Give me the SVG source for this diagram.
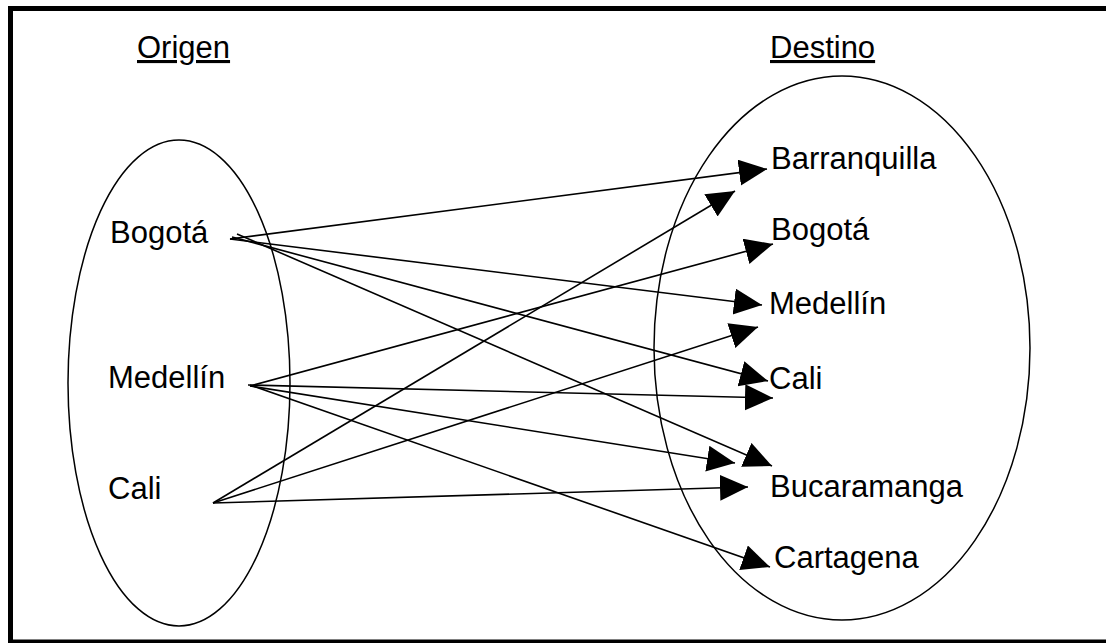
<svg xmlns="http://www.w3.org/2000/svg" width="1106" height="643" viewBox="0 0 1106 643">
<style>
text{font-family:"Liberation Sans",Arial,sans-serif;font-size:31px;fill:#000}
.h{text-decoration:underline}
.set{fill:none;stroke:#000;stroke-width:1.5}
.c{stroke:#000;stroke-width:1.6;fill:none;marker-end:url(#ah)}
</style>
<defs>
<marker id="ah" markerUnits="userSpaceOnUse" markerWidth="30" markerHeight="28" refX="28" refY="13" orient="auto" viewBox="0 0 30 28">
<path d="M0,0 L28,13 L0,26 z" fill="#000"/>
</marker>
</defs>
<rect width="1106" height="643" fill="#fff"/>
<rect x="10.5" y="8.5" width="1110" height="633.5" fill="none" stroke="#000" stroke-width="5"/>
<g id="origen">
<text class="h" x="137" y="58">Origen</text>
<ellipse class="set" cx="179" cy="383" rx="111" ry="243"/>
</g>
<g id="destino">
<text class="h" x="770" y="58">Destino</text>
<ellipse class="set" cx="842" cy="348" rx="188" ry="272"/>
</g>
<g id="o-bogota"><text x="110" y="243">Bogotá</text></g>
<g id="o-medellin"><text x="108" y="388">Medellín</text></g>
<g id="o-cali"><text x="108" y="499">Cali</text></g>
<g id="d-barranquilla"><text x="771" y="169">Barranquilla</text></g>
<g id="d-bogota"><text x="771" y="240">Bogotá</text></g>
<g id="d-medellin"><text x="769" y="314">Medellín</text></g>
<g id="d-cali"><text x="769" y="389">Cali</text></g>
<g id="d-bucaramanga"><text x="770" y="497">Bucaramanga</text></g>
<g id="d-cartagena"><text x="774" y="568">Cartagena</text></g>
<g id="connectors">
<path class="c" d="M230,239 L767,169"/>
<path class="c" d="M230,239 L762,305"/>
<path class="c" d="M232,237 L768,381"/>
<path class="c" d="M237,234 L772,466"/>
<path class="c" d="M250,386 L773,244"/>
<path class="c" d="M248,385 L773,398"/>
<path class="c" d="M250,386 L735,463"/>
<path class="c" d="M250,385 L770,567"/>
<path class="c" d="M213,503 L735,191"/>
<path class="c" d="M213,503 L758,327"/>
<path class="c" d="M213,503 L748,487"/>
</g>
</svg>
